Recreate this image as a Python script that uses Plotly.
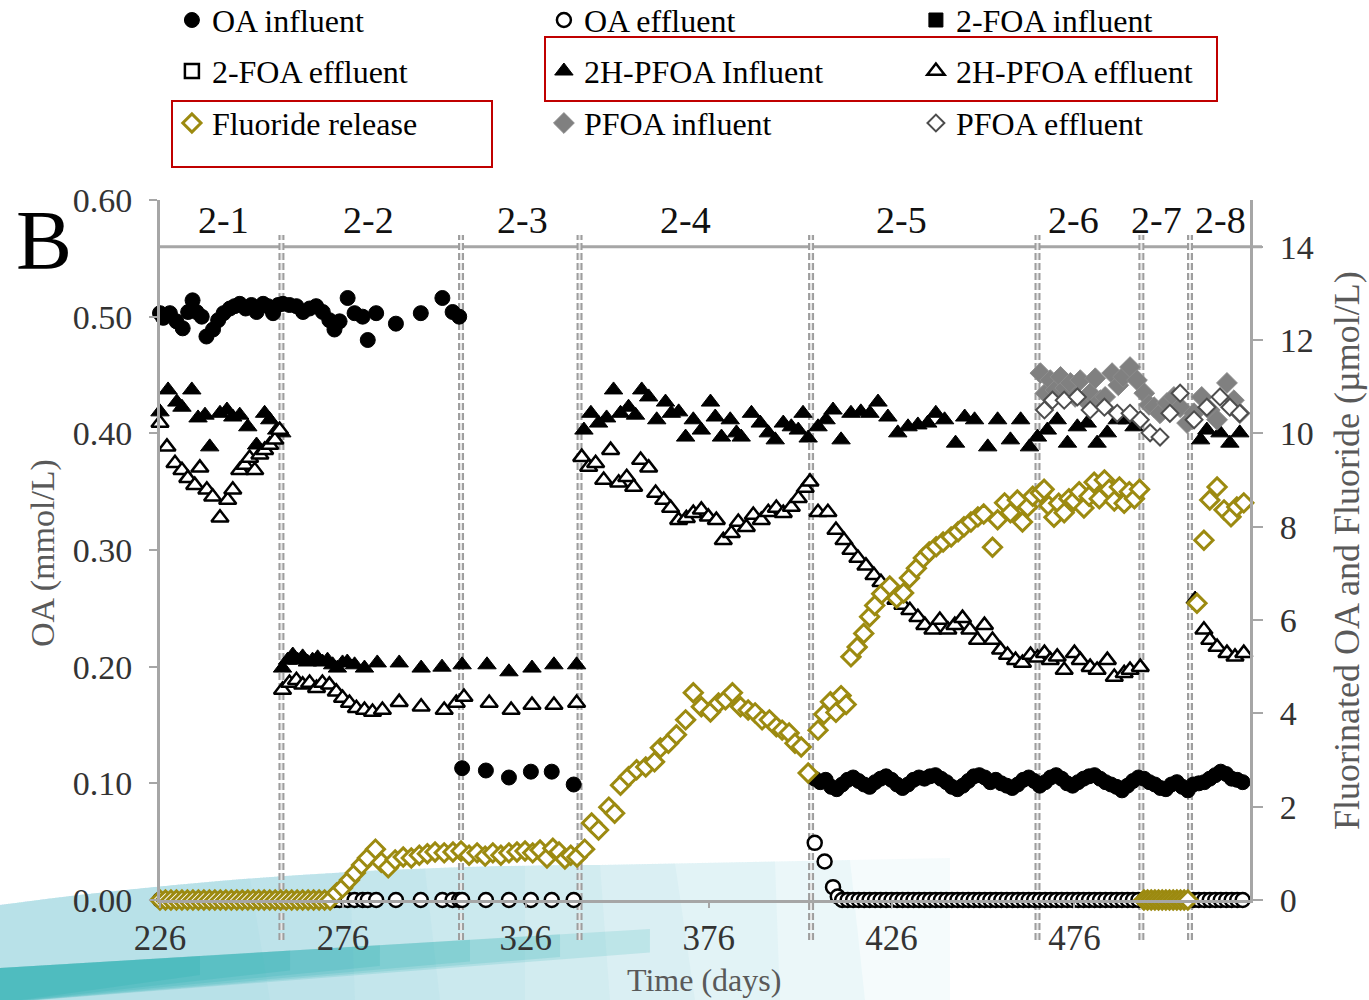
import plotly.graph_objects as go

# ---------------- data ----------------
phase_names = ["2-1", "2-2", "2-3", "2-4", "2-5", "2-6", "2-7", "2-8"]
phase_label_day = [243.4, 283.0, 325.0, 369.7, 428.6, 475.7, 498.3, 515.8]
phase_bounds = [259.2, 308.3, 340.7, 404.0, 465.9, 494.3, 507.6]

x_ticks = [226, 276, 326, 376, 426, 476]
yl_ticks = [0.00, 0.10, 0.20, 0.30, 0.40, 0.50, 0.60]
yr_ticks = [0, 2, 4, 6, 8, 10, 12, 14]

# OA influent (mmol/L, left axis)
oa_inf_days = [226.0, 226.9, 228.7, 230.5, 232.2, 233.7, 234.9, 236.0, 237.4, 238.7, 240.5, 241.9,
               243.4, 245.1, 246.4, 247.8, 249.4, 251.0, 252.4, 254.2, 255.5, 256.9, 258.3,
               259.6, 261.4, 263.3, 265.1, 266.9, 268.7, 270.5, 272.3, 273.7, 275.1, 277.3, 279.2,
               281.4, 282.8, 285.1, 290.5, 297.3, 303.2, 306.0, 307.8,
               308.6, 315.1, 321.4, 327.4, 333.1, 339.1,
               405.0, 406.5, 408.0, 409.5, 411.0, 412.5, 414.0, 415.5, 417.0, 418.5, 420.0, 421.5,
               423.0, 424.5, 426.0, 427.5, 429.0, 430.5, 432.0, 433.5, 435.0, 436.5, 438.0, 439.5,
               441.0, 442.5, 444.0, 445.5, 447.0, 448.5, 450.0, 451.5, 453.0, 454.5, 456.0, 457.5,
               459.0, 460.5, 462.0, 463.5, 465.0, 466.5, 468.0, 469.5, 471.0, 472.5, 474.0, 475.5,
               477.0, 478.5, 480.0, 481.5, 483.0, 484.5, 486.0, 487.5, 489.0, 490.5, 492.0, 493.5,
               495.0, 496.5, 498.0, 499.5, 501.0, 502.5, 504.0, 505.5, 507.0, 508.5, 510.0, 511.5,
               513.0, 514.5, 516.0, 517.5, 519.0, 520.5, 522.0]
oa_inf_vals = [0.503, 0.499, 0.503, 0.496, 0.490, 0.504, 0.514, 0.504, 0.500, 0.483, 0.489, 0.497,
               0.503, 0.507, 0.509, 0.511, 0.507, 0.510, 0.504, 0.511, 0.509, 0.503, 0.510,
               0.511, 0.510, 0.509, 0.504, 0.507, 0.509, 0.504, 0.497, 0.489, 0.496, 0.516, 0.503,
               0.500, 0.480, 0.503, 0.494, 0.503, 0.516, 0.504, 0.500,
               0.113, 0.111, 0.105, 0.110, 0.110, 0.099,
               0.104, 0.101, 0.103, 0.097, 0.095, 0.099, 0.103, 0.105, 0.102, 0.099, 0.097, 0.101,
               0.104, 0.106, 0.103, 0.099, 0.096, 0.099, 0.103, 0.105, 0.104, 0.106, 0.107, 0.104,
               0.101, 0.097, 0.095, 0.098, 0.102, 0.106, 0.107, 0.105, 0.101, 0.103, 0.100, 0.098,
               0.096, 0.099, 0.103, 0.105, 0.102, 0.098, 0.101, 0.105, 0.107, 0.104, 0.100, 0.098,
               0.101, 0.104, 0.106, 0.107, 0.104, 0.101, 0.099, 0.097, 0.094, 0.098, 0.102, 0.105,
               0.104, 0.101, 0.099, 0.096, 0.095, 0.099, 0.101, 0.097, 0.094, 0.099, 0.100, 0.101,
               0.104, 0.107, 0.110, 0.108, 0.104, 0.103, 0.101]

# OA effluent (mmol/L, left axis)
oa_eff_days = [226.0, 226.9, 228.7, 230.5, 232.2, 233.7, 234.9, 236.0, 237.4, 238.7, 240.5, 241.9,
               243.4, 245.1, 246.4, 247.8, 249.4, 251.0, 252.4, 254.2, 255.5, 256.9, 258.3,
               259.6, 261.4, 263.3, 265.1, 266.9, 268.7, 270.5, 272.3, 273.7, 275.1, 277.3, 279.2,
               281.4, 282.8, 285.1, 290.5, 297.3, 303.2, 306.0, 307.8,
               308.6, 315.1, 321.4, 327.4, 333.1, 339.1,
               405.0, 407.7, 410.0, 411.3,
               412.5, 414.0, 415.5, 417.0, 418.5, 420.0, 421.5, 423.0, 424.5, 426.0, 427.5, 429.0,
               430.5, 432.0, 433.5, 435.0, 436.5, 438.0, 439.5, 441.0, 442.5, 444.0, 445.5, 447.0,
               448.5, 450.0, 451.5, 453.0, 454.5, 456.0, 457.5, 459.0, 460.5, 462.0, 463.5, 465.0,
               466.5, 468.0, 469.5, 471.0, 472.5, 474.0, 475.5, 477.0, 478.5, 480.0, 481.5, 483.0,
               484.5, 486.0, 487.5, 489.0, 490.5, 492.0, 493.5, 495.0, 496.5, 498.0, 499.5, 501.0,
               502.5, 504.0, 505.5, 507.0, 508.5, 510.0, 511.5, 513.0, 514.5, 516.0, 517.5, 519.0,
               520.5, 522.0]
oa_eff_vals = [0.0, 0.0, 0.0, 0.0, 0.0, 0.0, 0.0, 0.0, 0.0, 0.0, 0.0, 0.0,
               0.0, 0.0, 0.0, 0.0, 0.0, 0.0, 0.0, 0.0, 0.0, 0.0, 0.0,
               0.0, 0.0, 0.0, 0.0, 0.0, 0.0, 0.0, 0.0, 0.0, 0.0, 0.0, 0.0,
               0.0, 0.0, 0.0, 0.0, 0.0, 0.0, 0.0, 0.0,
               0.0, 0.0, 0.0, 0.0, 0.0, 0.0,
               0.049, 0.033, 0.011, 0.003,
               0.0, 0.0, 0.0, 0.0, 0.0, 0.0, 0.0, 0.0, 0.0, 0.0, 0.0, 0.0,
               0.0, 0.0, 0.0, 0.0, 0.0, 0.0, 0.0, 0.0, 0.0, 0.0, 0.0, 0.0,
               0.0, 0.0, 0.0, 0.0, 0.0, 0.0, 0.0, 0.0, 0.0, 0.0, 0.0, 0.0,
               0.0, 0.0, 0.0, 0.0, 0.0, 0.0, 0.0, 0.0, 0.0, 0.0, 0.0, 0.0,
               0.0, 0.0, 0.0, 0.0, 0.0, 0.0, 0.0, 0.0, 0.0, 0.0, 0.0, 0.0,
               0.0, 0.0, 0.0, 0.0, 0.0, 0.0, 0.0, 0.0, 0.0, 0.0, 0.0, 0.0,
               0.0, 0.0]

# 2-FOA influent / effluent: no points in panel B (legend only)
foa_inf_days, foa_inf_vals = [None], [None]
foa_eff_days, foa_eff_vals = [None], [None]

# 2H-PFOA influent (umol/L, right axis)
h_inf_days = [226.0, 228.2, 230.6, 232.0, 234.7, 236.4, 238.3, 239.6, 242.4, 244.3, 245.9, 247.8,
              250.0, 252.4, 254.6, 256.0, 257.9, 259.3,
              259.5, 260.9, 262.3, 263.6, 265.0, 266.3, 267.7, 269.1, 270.4, 271.8, 273.2, 274.5,
              275.9, 277.2, 279.2, 281.9, 285.4, 291.4, 297.4, 303.1, 308.6, 315.4, 321.4, 327.7,
              333.7, 339.9,
              341.9, 343.8, 345.9, 348.1, 350.0, 351.9, 354.1, 356.0, 357.7, 359.6, 361.8, 364.2,
              365.8, 367.8, 369.7, 371.8, 374.0, 376.5, 377.8, 379.5, 381.9, 383.6, 384.9, 387.7,
              390.1, 392.3, 394.2, 396.4, 398.6, 400.5, 401.8, 403.2, 405.9, 408.1, 410.0, 412.2,
              414.9, 417.6, 420.1, 422.3, 425.0, 427.7, 430.5, 433.2, 435.9, 438.1, 440.5, 443.5,
              446.0, 448.7, 452.3, 455.0, 458.5, 461.3, 463.7, 465.9, 468.6, 471.3, 474.1, 476.8,
              479.5, 482.2, 485.0, 487.7, 490.4, 492.3,
              509.0, 510.5, 512.2, 515.8, 518.5, 521.2]
h_inf_vals = [10.46, 10.93, 10.67, 10.56, 10.93, 10.33, 10.39, 9.71, 10.43, 10.50, 10.35, 10.39,
              10.14, 9.75, 10.43, 10.29, 10.07, 10.01,
              4.97, 5.14, 5.25, 5.14, 5.21, 5.10, 5.14, 5.19, 5.10, 5.14, 5.04, 4.97,
              5.08, 5.10, 5.04, 4.97, 5.08, 5.08, 4.97, 4.99, 5.04, 5.04, 4.89, 4.97,
              5.04, 5.04,
              10.07, 10.43, 10.22, 10.33, 10.93, 10.43, 10.56, 10.39, 10.93, 10.78, 10.29, 10.67,
              10.43, 10.46, 9.92, 10.29, 10.07, 10.67, 10.35, 9.92, 10.29, 10.01, 9.92, 10.43,
              10.22, 10.01, 9.86, 10.22, 10.14, 10.07, 10.43, 9.90, 10.14, 10.29, 10.50, 9.86,
              10.43, 10.46, 10.43, 10.67, 10.35, 10.01, 10.14, 10.18, 10.22, 10.43, 10.29, 9.79,
              10.35, 10.29, 9.71, 10.29, 9.86, 10.29, 9.71, 9.92, 10.07, 10.29, 9.79, 10.14,
              10.22, 9.79, 10.01, 10.29, 10.29, 10.14,
              6.45, 9.86, 10.07, 10.01, 9.79, 10.01]

# 2H-PFOA effluent (umol/L, right axis)
h_eff_days = [226.0, 227.9, 230.1, 232.0, 233.6, 235.5, 236.9, 238.8, 240.4, 242.4, 244.5, 245.9,
              247.8, 249.2, 250.5, 251.9, 253.3, 254.6, 256.0, 257.4, 258.7,
              259.5, 261.4, 263.3, 265.0, 266.9, 268.8, 270.4, 272.3, 274.2, 275.9, 277.8, 279.7,
              281.9, 284.1, 286.8, 291.4, 297.4, 303.7, 307.0, 309.1, 316.0, 322.0, 327.7, 333.7,
              339.9,
              341.3, 343.2, 345.1, 347.3, 349.2, 351.4, 353.6, 355.5, 357.4, 359.6, 361.5, 363.7,
              365.6, 367.8, 369.9, 371.8, 374.0, 375.9, 378.1, 380.0, 382.2, 384.1, 386.3, 388.2,
              390.4, 392.3, 394.5, 396.4, 398.6, 400.5, 402.4, 403.7,
              405.9, 408.6, 410.8, 413.0, 414.9, 416.8, 419.0, 421.2, 423.1, 425.0, 427.2, 429.1,
              431.0, 433.2, 435.1, 437.3, 439.2, 441.4, 443.3, 445.4, 447.4, 449.5, 451.4, 453.6,
              455.8, 457.7, 459.9, 461.8, 464.0, 465.9,
              467.8, 469.4, 471.3, 473.2, 476.0, 477.6, 480.3, 482.2, 485.0, 486.9, 489.6, 491.2,
              494.0,
              511.4, 513.0, 515.0, 517.7, 519.9, 522.3]
h_eff_vals = [10.22, 9.71, 9.36, 9.21, 9.04, 8.89, 9.26, 8.79, 8.64, 8.19, 8.57, 8.79,
              9.21, 9.32, 9.47, 9.21, 9.54, 9.64, 9.75, 9.86, 10.07,
              4.50, 4.65, 4.71, 4.61, 4.65, 4.54, 4.65, 4.61, 4.46, 4.33, 4.22, 4.11,
              4.07, 4.03, 4.07, 4.24, 4.14, 4.07, 4.22, 4.35, 4.22, 4.07, 4.18, 4.18,
              4.22,
              9.49, 9.28, 9.36, 9.00, 9.64, 8.94, 9.06, 8.85, 9.43, 9.26, 8.72, 8.57,
              8.40, 8.14, 8.18, 8.29, 8.36, 8.21, 8.14, 7.71, 7.86, 8.10, 7.99, 8.25,
              8.14, 8.31, 8.40, 8.29, 8.42, 8.61, 8.83, 8.96,
              8.31, 8.31, 7.93, 7.71, 7.50, 7.33, 7.16, 6.96, 6.81, 6.68, 6.43, 6.32,
              6.21, 6.06, 5.89, 5.79, 6.00, 5.79, 5.89, 6.04, 5.79, 5.57, 5.89, 5.57,
              5.36, 5.25, 5.14, 5.08, 5.25, 5.19,
              5.29, 5.14, 5.21, 4.93, 5.29, 5.14, 4.99, 4.93, 5.14, 4.78, 4.86, 4.93,
              4.99,
              5.79, 5.57, 5.42, 5.29, 5.21, 5.29]

# Fluoride release (umol/L, right axis)
f_days = [226.0, 227.5, 229.0, 230.5, 232.0, 233.5, 235.0, 236.5, 238.0, 239.5, 241.0, 242.5,
          244.0, 245.5, 247.0, 248.5, 250.0, 251.5, 253.0, 254.5, 256.0, 257.5, 259.0, 260.5,
          262.0, 263.5, 265.0, 266.5, 268.0, 269.5, 271.0, 272.5,
          274.3, 275.9, 277.8, 279.4, 281.1, 282.7, 284.9, 286.5, 288.4, 290.3, 292.5, 294.7,
          296.9, 299.1, 301.2, 303.7, 306.1, 308.3,
          310.5, 312.7, 314.9, 317.0, 319.2, 321.4, 323.6, 325.8, 327.9, 329.9, 331.8, 333.4,
          335.1, 336.7, 338.3, 340.0, 342.1,
          344.0, 345.9, 348.7, 350.3, 351.9, 354.1, 356.3, 358.8, 361.2, 362.8, 365.0, 367.2,
          369.7, 371.8, 374.0, 376.5, 378.7, 380.6, 382.5, 384.7, 386.8, 388.7, 390.6, 392.6,
          394.5, 396.1, 398.0, 399.6, 401.3, 403.2,
          405.9, 407.5, 409.3, 410.8, 412.2, 413.6,
          414.9, 416.6, 418.4, 420.0, 421.4, 423.3, 425.5, 427.4, 429.3, 430.9, 432.8, 434.7,
          436.3, 438.2, 440.1, 442.3, 444.2, 445.8, 447.7, 449.6, 451.2, 453.6, 455.0, 456.9,
          458.5, 460.4, 461.8, 463.2, 464.6,
          466.7, 467.7, 469.0, 470.4, 471.7, 473.2, 474.5, 475.9, 477.3, 478.6, 480.0, 481.4,
          482.8, 484.2, 485.5, 486.9, 488.3, 489.6, 491.0, 492.4, 493.8,
          495.0, 496.0, 497.0, 498.0, 499.0, 500.0, 501.0, 502.0, 503.0, 504.0, 505.0, 506.0,
          507.0,
          509.5, 511.4, 513.0, 515.0, 516.9, 518.8, 520.4, 522.3]
f_vals = [0.0, 0.0, 0.0, 0.0, 0.0, 0.0, 0.0, 0.0, 0.0, 0.0, 0.0, 0.0,
          0.0, 0.0, 0.0, 0.0, 0.0, 0.0, 0.0, 0.0, 0.0, 0.0, 0.0, 0.0,
          0.0, 0.0, 0.0, 0.0, 0.0, 0.0, 0.0, 0.0,
          0.15, 0.26, 0.43, 0.58, 0.75, 0.90, 1.09, 0.81, 0.69, 0.86, 0.92, 0.90,
          0.96, 0.99, 1.03, 1.01, 1.03, 1.05,
          0.96, 1.01, 0.94, 1.01, 0.96, 1.01, 1.03, 1.05, 1.01, 1.07, 0.90, 1.11,
          1.03, 0.88, 0.96, 0.92, 1.09,
          1.65, 1.50, 1.99, 1.86, 2.46, 2.64, 2.79, 2.85, 2.96, 3.26, 3.36, 3.54,
          3.86, 4.44, 4.14, 4.03, 4.22, 4.29, 4.44, 4.14, 4.07, 4.01, 3.86, 3.86,
          3.71, 3.64, 3.58, 3.36, 3.28, 2.72,
          3.64, 3.98, 4.25, 4.02, 4.38, 4.19,
          5.21, 5.42, 5.71, 6.07, 6.31, 6.56, 6.73, 6.47, 6.58, 6.90, 7.11, 7.33,
          7.46, 7.57, 7.67, 7.78, 7.89, 8.00, 8.10, 8.21, 8.27, 7.56, 8.15, 8.51,
          8.30, 8.57, 8.10, 8.42, 8.65,
          8.72, 8.80, 8.45, 8.20, 8.50, 8.30, 8.60, 8.55, 8.75, 8.40, 8.65, 8.95,
          8.60, 9.00, 8.80, 8.55, 8.85, 8.50, 8.75, 8.60, 8.80,
          0.0, 0.0, 0.0, 0.0, 0.0, 0.0, 0.0, 0.0, 0.0, 0.0, 0.0, 0.0,
          0.0,
          6.36, 7.71, 8.57, 8.85, 8.36, 8.21, 8.42, 8.51]

# PFOA influent / effluent (umol/L, right axis)
p_inf_days = [466.7, 468.1, 469.4, 470.8, 472.2, 473.5, 474.9, 476.2, 477.6, 479.0, 480.3, 481.7,
              483.1, 484.4, 486.3, 488.0, 489.3, 491.2, 493.1,
              495.1, 496.4, 497.8, 499.4, 501.3, 503.2, 504.9, 506.8,
              508.7, 510.8, 513.0, 515.0, 517.7, 519.6, 521.2]
p_inf_vals = [11.29, 10.86, 11.14, 10.93, 11.21, 10.97, 11.08, 10.78, 11.14, 10.71, 10.86, 11.18,
              10.71, 10.78, 11.29, 11.03, 11.21, 11.42, 11.14,
              10.86, 10.61, 10.56, 10.43, 10.65, 10.78, 10.56, 10.22,
              10.43, 10.78, 10.50, 10.29, 11.08, 10.71, 10.43]
p_eff_days = [467.8, 470.0, 473.2, 476.8, 480.3, 484.2, 487.7, 491.2, 494.0,
              496.7, 499.4, 502.1, 504.9,
              508.7, 512.2, 515.8, 518.5, 521.2]
p_eff_vals = [10.50, 10.71, 10.71, 10.78, 10.50, 10.56, 10.43, 10.43, 10.29,
              10.01, 9.92, 10.43, 10.86,
              10.29, 10.56, 10.78, 10.56, 10.43]

for a, b in [(oa_inf_days, oa_inf_vals), (oa_eff_days, oa_eff_vals), (h_inf_days, h_inf_vals),
             (h_eff_days, h_eff_vals), (f_days, f_vals), (p_inf_days, p_inf_vals),
             (p_eff_days, p_eff_vals)]:
    assert len(a) == len(b), (len(a), len(b))

# ---------------- styling ----------------
FONT = "Liberation Serif"
AX = "#A6A6A6"
TICKC = "#333333"
TITLEC = "#595959"
OLIVE = "#9C8A10"
W, H = 1369, 1000
ML, MR, MT, MB = 160, 119, 200, 100
PW, PH = W - ML - MR, H - MT - MB


def xp(px):
    return (px - ML) / PW


def yp(py):
    return (H - MB - py) / PH


fig = go.Figure()


def add(name, x, y, axis, legend, symbol, size, fill, line_color, line_width):
    fig.add_trace(go.Scatter(
        x=x, y=y, name=name, mode="markers", yaxis=axis, legend=legend,
        cliponaxis=False,
        marker=dict(symbol=symbol, size=size, color=fill,
                    line=dict(color=line_color, width=line_width)),
    ))


add("OA influent", oa_inf_days, oa_inf_vals, "y", "legend", "circle", 15, "black", "black", 1)
add("OA effluent", oa_eff_days, oa_eff_vals, "y", "legend", "circle", 14, "white", "black", 2.5)
add("2-FOA influent", foa_inf_days, foa_inf_vals, "y2", "legend", "square", 14, "black", "black", 1)
add("2-FOA effluent", foa_eff_days, foa_eff_vals, "y2", "legend2", "square", 14, "white", "black", 2.5)
add("2H-PFOA Influent", h_inf_days, h_inf_vals, "y2", "legend2", "triangle-up", 16, "black", "black", 1)
add("2H-PFOA effluent", h_eff_days, h_eff_vals, "y2", "legend2", "triangle-up", 15, "white", "black", 2.5)
add("Fluoride release", f_days, f_vals, "y2", "legend3", "diamond", 14, "white", OLIVE, 3)
add("PFOA influent", p_inf_days, p_inf_vals, "y2", "legend3", "diamond", 16, "#808080", "#8C8C8C", 1)
add("PFOA effluent", p_eff_days, p_eff_vals, "y2", "legend3", "diamond", 13, "white", "#4D4D4D", 2)

shapes = []


def poly(pts):
    s = "M " + " L ".join(f"{xp(a):.4f},{yp(b):.4f}" for a, b in pts)
    return s + " Z"


# decorative teal swoosh in the bottom-left background, built as stacked
# translucent layers that end further and further right (a soft fade)
def light_top(x):
    return 905 - 40 * (1 - (1 - min(x, 600) / 600) ** 2) - 0.02 * max(x - 600, 0)


n_layers = 9
for k in range(n_layers):
    x_end = 950 - k * 85
    pts = [(x, light_top(x)) for x in range(0, int(x_end) + 1, 25)]
    pts += [(x_end, 1000), (0, 1000)]
    shapes.append(dict(type="path", xref="paper", yref="paper", path=poly(pts),
                       fillcolor="rgba(120,205,210,0.075)", line=dict(width=0), layer="below"))
for k in range(6):
    x_end = 650 - k * 90
    pts = [(0, 968), (x_end, 968 - 0.06 * x_end), (x_end, 985 - 0.05 * x_end), (0, 1003)]
    shapes.append(dict(type="path", xref="paper", yref="paper", path=poly(pts),
                       fillcolor="rgba(0,160,165,0.13)", line=dict(width=0), layer="below"))

# top horizontal frame line
shapes.append(dict(type="line", xref="paper", yref="y2", x0=0, x1=xp(1262), y0=14, y1=14,
                   line=dict(color=AX, width=3), layer="below"))
# phase boundaries (dashed)
for b in phase_bounds:
    shapes.append(dict(type="line", xref="x", yref="paper", x0=b, x1=b, y0=yp(940), y1=yp(235),
                       line=dict(color="#9E9E9E", width=6, dash="7px,3px"), layer="below"))
    shapes.append(dict(type="line", xref="x", yref="paper", x0=b, x1=b, y0=yp(940), y1=yp(235),
                       line=dict(color="#E6E6E6", width=2, dash="7px,3px"), layer="below"))
# red highlight boxes
shapes.append(dict(type="rect", xref="paper", yref="paper", x0=xp(172), x1=xp(492),
                   y0=yp(167), y1=yp(101), line=dict(color="#C00000", width=2)))
shapes.append(dict(type="rect", xref="paper", yref="paper", x0=xp(545), x1=xp(1217),
                   y0=yp(101), y1=yp(37), line=dict(color="#C00000", width=2)))

annotations = []
for name, d in zip(phase_names, phase_label_day):
    annotations.append(dict(x=d, y=yp(220), xref="x", yref="paper", text=name, showarrow=False,
                            xanchor="center", yanchor="middle",
                            font=dict(family=FONT, size=38, color="#111111")))
annotations.append(dict(x=xp(44), y=yp(240), xref="paper", yref="paper", text="B", showarrow=False,
                        xanchor="center", yanchor="middle", font=dict(family=FONT, size=84, color="black")))
annotations.append(dict(x=xp(43), y=yp(553), xref="paper", yref="paper", text="OA (mmol/L)",
                        showarrow=False, textangle=-90, xanchor="center", yanchor="middle",
                        font=dict(family=FONT, size=34, color=TITLEC)))
annotations.append(dict(x=xp(1347), y=yp(551), xref="paper", yref="paper",
                        text="Fluorinated OA and Fluoride (µmol/L)",
                        showarrow=False, textangle=-90, xanchor="center", yanchor="middle",
                        font=dict(family=FONT, size=36, color=TITLEC)))
annotations.append(dict(x=xp(704), y=yp(980), xref="paper", yref="paper", text="Time (days)",
                        showarrow=False, xanchor="center", yanchor="middle",
                        font=dict(family=FONT, size=32, color=TITLEC)))

leg_common = dict(orientation="h", x=-0.001, xanchor="left", yanchor="top",
                  entrywidth=314, entrywidthmode="pixels", indentation=13,
                  bgcolor="rgba(0,0,0,0)", font=dict(family=FONT, size=32, color="black"),
                  tracegroupgap=0)

fig.update_layout(
    width=W, height=H,
    margin=dict(l=ML, r=MR, t=MT, b=MB, autoexpand=False),
    paper_bgcolor="white", plot_bgcolor="rgba(0,0,0,0)",
    font=dict(family=FONT, color=TICKC),
    showlegend=True,
    legend=dict(leg_common, y=1 + (MT + 7.3) / PH),
    legend2=dict(leg_common, y=1 + (MT - 43.7) / PH),
    legend3=dict(leg_common, y=1 + (MT - 95.7) / PH),
    xaxis=dict(range=[226, 524], tickvals=x_ticks, ticktext=[str(v) for v in x_ticks],
               showline=True, linecolor=AX, linewidth=3, ticks="outside", ticklen=5,
               tickwidth=2, tickcolor=AX, showgrid=False, zeroline=False,
               tickfont=dict(family=FONT, size=35, color=TICKC), ticklabelstandoff=0),
    yaxis=dict(range=[0, 0.6], tickvals=yl_ticks, tickformat=".2f",
               showline=True, linecolor=AX, linewidth=3, ticks="outside", ticklen=8,
               tickwidth=2, tickcolor=AX, showgrid=False, zeroline=False,
               tickfont=dict(family=FONT, size=34, color=TICKC), ticklabelstandoff=10),
    yaxis2=dict(range=[0, 15], tickvals=yr_ticks, overlaying="y", side="right",
                showline=True, linecolor=AX, linewidth=3, ticks="outside", ticklen=10,
                tickwidth=2, tickcolor=AX, showgrid=False, zeroline=False,
                tickfont=dict(family=FONT, size=34, color=TICKC), ticklabelstandoff=10),
    shapes=shapes,
    annotations=annotations,
)

fig.write_html("out.html")
